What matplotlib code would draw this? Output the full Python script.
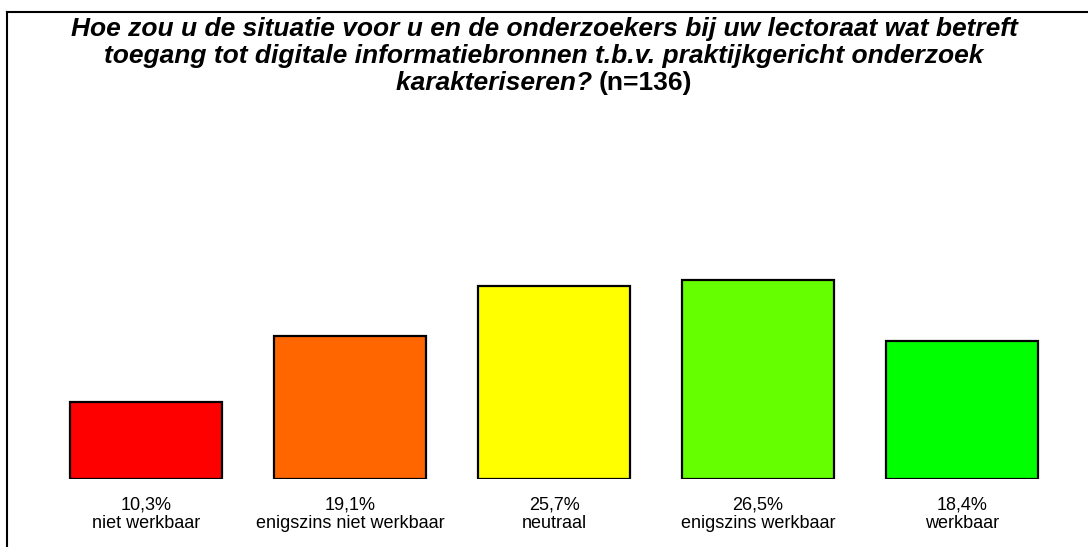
import matplotlib
matplotlib.use("Agg")
import matplotlib.pyplot as plt
from matplotlib.lines import Line2D

plt.rcParams['font.family'] = ['Liberation Sans', 'DejaVu Sans']

categories = ["niet werkbaar", "enigszins niet werkbaar", "neutraal",
              "enigszins werkbaar", "werkbaar"]
percentages = [10.3, 19.1, 25.7, 26.5, 18.4]
bar_colors = ["#FF0000", "#FF6600", "#FFFF00", "#66FF00", "#00FF00"]

title_lines = ["Hoe zou u de situatie voor u en de onderzoekers bij uw lectoraat wat betreft",
               "toegang tot digitale informatiebronnen t.b.v. praktijkgericht onderzoek"]
title_last = "karakteriseren?"
title_n = "(n=136)"

W, H = 1088, 547
fig = plt.figure(figsize=(W / 100, H / 100), dpi=100)

# axes placed in pixel terms: bars baseline at y=479
ax = fig.add_axes([44 / W, (H - 479) / H, 1020 / W, 225 / H])
ax.bar(range(len(percentages)), percentages, width=0.745, color=bar_colors,
       edgecolor="black", linewidth=1.6)
ax.set_xlim(-0.5, len(percentages) - 0.5)
ax.set_ylim(0, 30)
ax.axis("off")

for i, (cat, v) in enumerate(zip(categories, percentages)):
    lbl = f"{v:.1f}".replace(".", ",") + "%"
    ax.annotate(lbl, xy=(i, 0), xytext=(0, -30), textcoords="offset pixels",
                ha="center", va="baseline", fontsize=13, annotation_clip=False)
    ax.annotate(cat, xy=(i, 0), xytext=(0, -49), textcoords="offset pixels",
                ha="center", va="baseline", fontsize=13, annotation_clip=False)

# title
tsize = 19
for k, line in enumerate(title_lines):
    fig.text(0.5, 1 - (36 + 27 * k) / H, line, ha="center", va="baseline",
             fontsize=tsize, fontweight="bold", fontstyle="italic")
t1 = fig.text(0, 1 - 90 / H, title_last + " ", ha="left", va="baseline",
              fontsize=tsize, fontweight="bold", fontstyle="italic")
t2 = fig.text(0, 1 - 90 / H, title_n, ha="left", va="baseline",
              fontsize=tsize, fontweight="bold")
fig.canvas.draw()
r = fig.canvas.get_renderer()
w1 = t1.get_window_extent(r).width
w2 = t2.get_window_extent(r).width
x0 = (W - (w1 + w2)) / 2
t1.set_x(x0 / W)
t2.set_x((x0 + w1) / W)

# frame lines (top and left edge only visible)
fig.add_artist(Line2D([7 / W, 1], [1 - 12 / H, 1 - 12 / H], color="black",
                      linewidth=1.5, transform=fig.transFigure))
fig.add_artist(Line2D([7 / W, 7 / W], [0, 1 - 12 / H], color="black",
                      linewidth=1.5, transform=fig.transFigure))

fig.savefig("out.png", dpi=100)
